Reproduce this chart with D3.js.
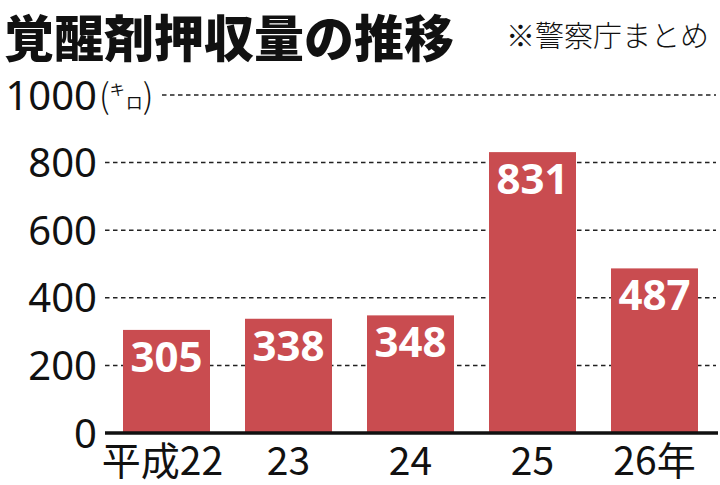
<!DOCTYPE html>
<html><head><meta charset="utf-8">
<script src="https://cdn.jsdelivr.net/npm/d3@7/dist/d3.min.js"></script>
<style>body{margin:0;background:#fff}svg{display:block}</style>
</head><body>
<script>
const categories = ["平成22", "23", "24", "25", "26年"];
const values = [305, 338, 348, 831, 487];
const yTicks = [0, 200, 400, 600, 800, 1000];
const title = "覚醒剤押収量の推移";
const source = "※警察庁まとめ";

const W = 720, H = 485;
const svg = d3.select("body").append("svg").attr("width", W).attr("height", H);

const y = d3.scaleLinear().domain([0, 1000]).range([433, 95]);
const x = d3.scaleBand().domain(categories).range([105.5, 715.5]).paddingInner(0.287).paddingOuter(0.1435);

// gridlines
svg.append("g").selectAll("line").data(yTicks.filter(d => d > 0)).join("line")
  .attr("x1", d => d === 1000 ? 162 : 105).attr("x2", 716)
  .attr("y1", d => y(d)).attr("y2", d => y(d))
  .attr("stroke", "#222").attr("stroke-width", 1.5).attr("stroke-dasharray", "4.5,3.5");

// tick labels
svg.append("g").selectAll("text").data(yTicks).join("text")
  .attr("x", 97).attr("y", d => y(d) + 14.5)
  .attr("text-anchor", "end")
  .attr("font-family", "'Noto Sans', sans-serif").attr("font-size", 40)
  .attr("fill", "#111").text(d => d);

// unit
const unit = svg.append("text").attr("x", 99).attr("y", y(1000) + 13)
  .attr("font-family", "'Noto Sans CJK JP', sans-serif").attr("fill", "#111");
unit.append("tspan").attr("font-size", 34).attr("font-weight", 300).text("(");
unit.append("tspan").attr("font-size", 15).attr("dy", -13).text("キ");
unit.append("tspan").attr("font-size", 17).attr("dy", 14).attr("dx", 1).text("ロ");
unit.append("tspan").attr("font-size", 34).attr("font-weight", 300).attr("dy", -1).text(")");

// bars
svg.append("g").selectAll("rect").data(values).join("rect")
  .attr("x", (d, i) => x(categories[i])).attr("width", x.bandwidth())
  .attr("y", d => y(d)).attr("height", d => y(0) - y(d))
  .attr("fill", "#c94c50");

// value labels
svg.append("g").selectAll("text").data(values).join("text")
  .attr("x", (d, i) => x(categories[i]) + x.bandwidth() / 2)
  .attr("y", d => y(d) + 42)
  .attr("text-anchor", "middle")
  .attr("font-family", "'Noto Sans', sans-serif").attr("font-weight", 700).attr("font-size", 42)
  .attr("fill", "#fff").text(d => d);

// axis line
svg.append("line").attr("x1", 105).attr("x2", 718).attr("y1", y(0)).attr("y2", y(0))
  .attr("stroke", "#111").attr("stroke-width", 3.5);

// x labels
svg.append("g").selectAll("text").data(categories).join("text")
  .attr("x", d => x(d) + x.bandwidth() / 2 - (d === "平成22" ? 4 : 0))
  .attr("y", 475)
  .attr("text-anchor", "middle")
  .attr("font-family", "'Noto Sans CJK JP', sans-serif").attr("font-size", 39)
  .attr("fill", "#111").text(d => d);

// title
svg.append("text").attr("x", 4).attr("y", 57)
  .attr("font-family", "'Noto Sans CJK JP', sans-serif").attr("font-weight", 900).attr("font-size", 50)
  .attr("fill", "#111").text(title);

svg.append("text").attr("x", 506).attr("y", 47)
  .attr("font-family", "'Noto Sans CJK JP', sans-serif").attr("font-weight", 300).attr("font-size", 29)
  .attr("fill", "#111").text(source);
</script>
</body></html>
